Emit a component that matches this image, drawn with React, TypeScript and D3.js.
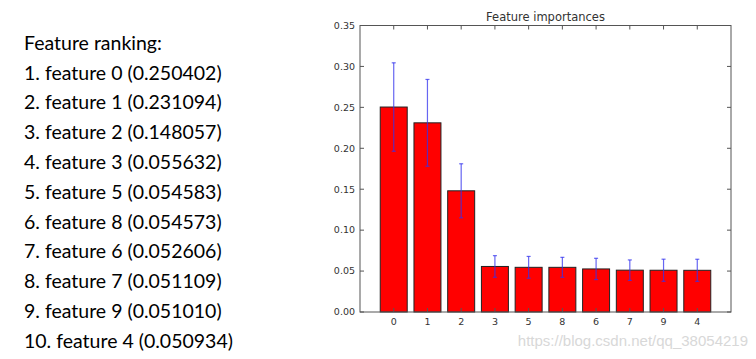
import React from "react";
import * as d3 from "d3";

const features = ["0", "1", "2", "3", "5", "8", "6", "7", "9", "4"];
const importances = [0.250402, 0.231094, 0.148057, 0.055632, 0.054583, 0.054573, 0.052606, 0.051109, 0.05101, 0.050934];
const stds = [0.054, 0.053, 0.033, 0.0132, 0.0133, 0.0122, 0.013, 0.0125, 0.0135, 0.0135];
const yTicks = [0, 0.05, 0.1, 0.15, 0.2, 0.25, 0.3, 0.35];
const rankingTitle = "Feature ranking:";

const W = 756, H = 359;
const left = 360, right = 731, top = 25.5, bottom = 312;

export default function App() {
  const x = d3.scaleLinear().domain([-1, 10]).range([left, right]);
  const y = d3.scaleLinear().domain([0, 0.35]).range([bottom, top]);
  const bw = x(0.8) - x(0);
  const tickColor = "#555";
  const textColor = "#333";
  return (
    <svg width={W} height={H} style={{ position: "absolute", left: 0, top: 0, background: "#fff" }}>
      <rect x={0} y={0} width={W} height={H} fill="#fff" />
      {/* ranking text */}
      <g fontFamily="Lato, 'Open Sans', sans-serif" fontSize={19.5} fill="#000">
        <text x={24} y={49.5}>{rankingTitle}</text>
        {features.map((f, i) => (
          <text key={i} x={24} y={79.5 + i * 29.8}>
            {`${i + 1}. feature ${f} (${importances[i].toFixed(6)})`}
          </text>
        ))}
      </g>
      {/* title */}
      <text x={(left + right) / 2} y={21} textAnchor="middle" fontFamily="'DejaVu Sans', sans-serif" fontSize={11.5} fill={textColor}>
        Feature importances
      </text>
      {/* bars */}
      {importances.map((v, i) => (
        <rect key={i} x={x(i) - bw / 2} y={y(v)} width={bw} height={y(0) - y(v)} fill="#ff0000" stroke="#222" strokeWidth={1} />
      ))}
      {/* error bars */}
      {importances.map((v, i) => (
        <g key={i} stroke="#3333ee" strokeOpacity={0.75} strokeWidth={1.2}>
          <line x1={x(i)} x2={x(i)} y1={y(v + stds[i])} y2={y(v - stds[i])} />
          <line x1={x(i) - 2} x2={x(i) + 2} y1={y(v + stds[i])} y2={y(v + stds[i])} />
          <line x1={x(i) - 2} x2={x(i) + 2} y1={y(v - stds[i])} y2={y(v - stds[i])} />
        </g>
      ))}
      {/* frame */}
      <rect x={left} y={top} width={right - left} height={bottom - top} fill="none" stroke={tickColor} strokeWidth={1} />
      {/* y ticks */}
      {yTicks.map((t, i) => (
        <g key={i}>
          <line x1={left} x2={left + 4} y1={y(t)} y2={y(t)} stroke={tickColor} />
          <line x1={right} x2={right - 4} y1={y(t)} y2={y(t)} stroke={tickColor} />
          <text x={left - 5} y={y(t)} dy="0.35em" textAnchor="end" fontFamily="'DejaVu Sans', sans-serif" fontSize={9.5} fill={textColor}>
            {d3.format(".2f")(t)}
          </text>
        </g>
      ))}
      {/* x ticks */}
      {features.map((f, i) => (
        <g key={i}>
          <line x1={x(i)} x2={x(i)} y1={bottom} y2={bottom - 4} stroke={tickColor} />
          <line x1={x(i)} x2={x(i)} y1={top} y2={top + 4} stroke={tickColor} />
          <text x={x(i)} y={bottom + 13} textAnchor="middle" fontFamily="'DejaVu Sans', sans-serif" fontSize={9.5} fill={textColor}>
            {f}
          </text>
        </g>
      ))}
      {/* watermark */}
      <text x={748} y={346} textAnchor="end" fontFamily="'Liberation Sans', Arial, sans-serif" fontSize={15} fill="#d8d8d8">
        https://blog.csdn.net/qq_38054219
      </text>
    </svg>
  );
}
